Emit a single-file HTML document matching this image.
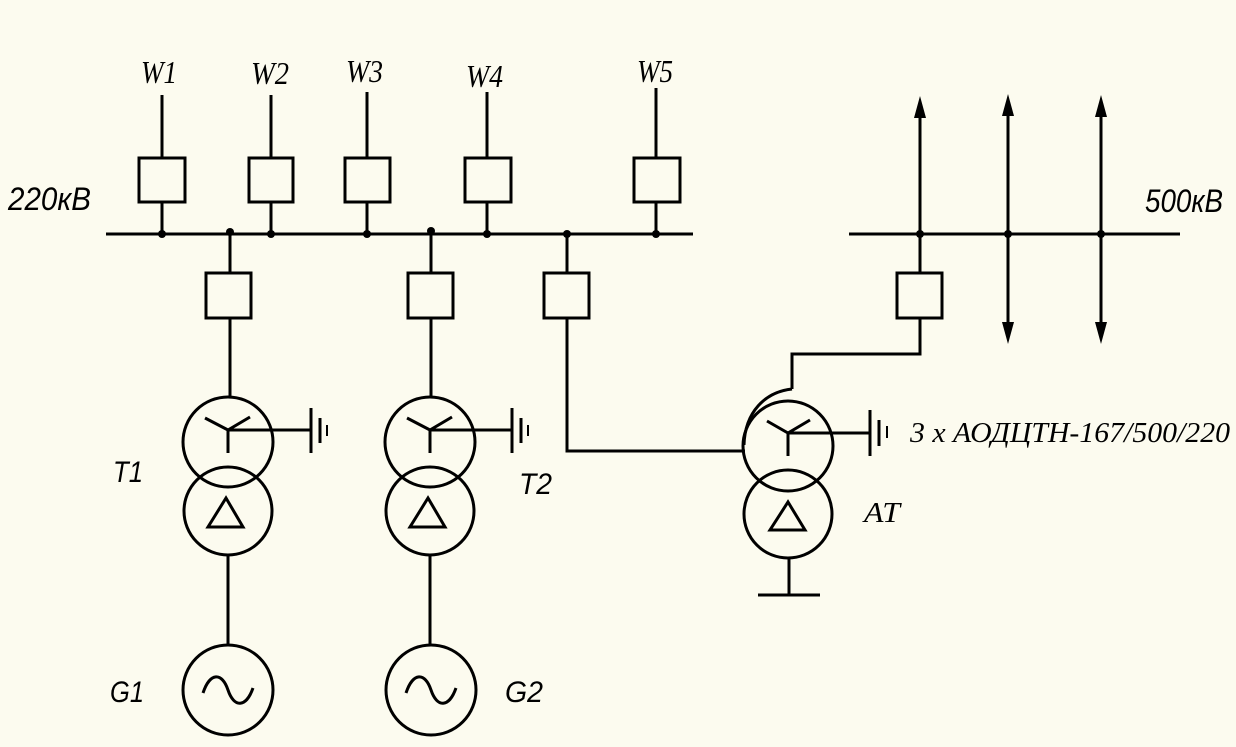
<!DOCTYPE html>
<html><head><meta charset="utf-8"><style>
html,body{margin:0;padding:0;background:#fcfbef;}
svg{display:block}
.l{stroke:#000;stroke-width:3;fill:none}
.s{font-family:"Liberation Sans",sans-serif;font-style:italic;fill:#000}
.t{font-family:"Liberation Serif",serif;font-style:italic;fill:#000}
</style></head><body>
<svg width="1236" height="747" viewBox="0 0 1236 747" xmlns="http://www.w3.org/2000/svg">
<rect width="1236" height="747" fill="#fcfbef"/>
<line class="l" x1="106" y1="234" x2="693" y2="234"/>
<g class="l">
<path d="M162 95V158M162 202V234"/><rect x="139" y="158" width="46" height="44"/>
<path d="M271 95V158M271 202V234"/><rect x="249" y="158" width="44" height="44"/>
<path d="M367 92V158M367 202V234"/><rect x="345" y="158" width="45" height="44"/>
<path d="M487 92V158M487 202V234"/><rect x="465" y="158" width="46" height="44"/>
<path d="M656 88V158M656 202V234"/><rect x="634" y="158" width="46" height="44"/>
<path d="M230 232V273M230 318V397"/><rect x="206" y="273" width="45" height="45"/>
<path d="M431 232V273M431 318V397"/><rect x="408" y="273" width="45" height="45"/>
<path d="M567 232V273M567 318V451H745"/><rect x="544" y="273" width="45" height="45"/>
</g>
<g fill="#000">
<circle cx="162" cy="234" r="4"/><circle cx="230" cy="232" r="4"/><circle cx="271" cy="234" r="4"/><circle cx="367" cy="234" r="4"/><circle cx="431" cy="231" r="4"/><circle cx="487" cy="234" r="4"/><circle cx="567" cy="234" r="4"/><circle cx="656" cy="234" r="4"/>
<circle cx="920" cy="234" r="4"/><circle cx="1008" cy="234" r="4"/><circle cx="1101" cy="234" r="4"/>
</g>
<g class="l">
<circle cx="228" cy="442" r="45"/><circle cx="228" cy="511" r="44"/>
<path d="M205 418L228 430L250 417M228 430V453M228 430H311M311 408V453M320 418V443"/>
<path d="M327 425V436" stroke-width="2"/>
<path d="M208 527H243L226 498Z"/>
<path d="M228 555V645"/><circle cx="228" cy="690" r="45"/>
<path d="M203 693C210 672 222 672 228 690C234 708 246 708 253 688"/>
</g>
<g class="l">
<circle cx="430" cy="442" r="45"/><circle cx="430" cy="511" r="44"/>
<path d="M407 418L430 430L452 417M430 430V453M430 430H512M512 408V453M521 418V443"/>
<path d="M528 425V436" stroke-width="2"/>
<path d="M410 527H445L428 498Z"/>
<path d="M430 555V645"/><circle cx="431" cy="690" r="45"/>
<path d="M406 693C413 672 425 672 431 690C437 708 449 708 456 688"/>
</g>
<line class="l" x1="849" y1="234" x2="1180" y2="234"/>
<g class="l">
<path d="M920 112V273M920 318V354H792V389"/><rect x="897" y="273" width="45" height="45"/>
<path d="M792 389C765 392 745 412 744 445"/>
<path d="M1008 110V325M1101 110V325"/>
<circle cx="788" cy="446" r="45"/><circle cx="788" cy="514" r="44"/>
<path d="M767 421L788 433L810 420M788 433V456M788 433H870M870 410V456M879 420V446"/>
<path d="M887 426V438" stroke-width="2"/>
<path d="M770 530H805L788 502Z"/>
<path d="M789 558V595M758 595H820"/>
</g>
<g fill="#000">
<path d="M920 96L914 118H926Z"/><path d="M1008 94L1002 116H1014Z"/><path d="M1101 95L1095 117H1107Z"/>
<path d="M1008 344L1002 322H1014Z"/><path d="M1101 344L1095 322H1107Z"/>
</g>
<text class="t" x="141" y="83" font-size="32" textLength="36" lengthAdjust="spacingAndGlyphs">W1</text>
<text class="t" x="251" y="84" font-size="32" textLength="38" lengthAdjust="spacingAndGlyphs">W2</text>
<text class="t" x="346" y="82" font-size="32" textLength="37" lengthAdjust="spacingAndGlyphs">W3</text>
<text class="t" x="466" y="87" font-size="32" textLength="37" lengthAdjust="spacingAndGlyphs">W4</text>
<text class="t" x="637" y="82" font-size="32" textLength="36" lengthAdjust="spacingAndGlyphs">W5</text>
<text class="s" x="8" y="210" font-size="32" textLength="83" lengthAdjust="spacingAndGlyphs">220кВ</text>
<text class="s" x="1145" y="212" font-size="32" textLength="78" lengthAdjust="spacingAndGlyphs">500кВ</text>
<text class="s" x="113" y="482" font-size="30" textLength="30" lengthAdjust="spacingAndGlyphs">T1</text>
<text class="s" x="519" y="494" font-size="30" textLength="33" lengthAdjust="spacingAndGlyphs">T2</text>
<text class="s" x="110" y="702" font-size="30" textLength="34" lengthAdjust="spacingAndGlyphs">G1</text>
<text class="s" x="505" y="702" font-size="30" textLength="38" lengthAdjust="spacingAndGlyphs">G2</text>
<text class="t" x="910" y="442" font-size="28" textLength="320" lengthAdjust="spacingAndGlyphs">3 x АОДЦТН-167/500/220</text>
<text class="t" x="864" y="522" font-size="28" textLength="36" lengthAdjust="spacingAndGlyphs">AT</text>
</svg>
</body></html>
